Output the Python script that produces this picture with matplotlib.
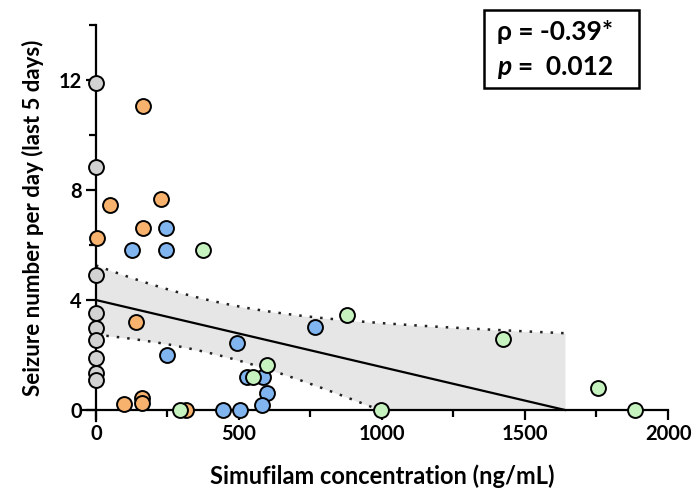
import numpy as np
import matplotlib
matplotlib.use("Agg")
import matplotlib.pyplot as plt
from matplotlib.patches import Rectangle
from matplotlib.ticker import MultipleLocator

plt.rcParams['font.family'] = ['Lato', 'DejaVu Sans']
plt.rcParams['font.weight'] = 'bold'

# concentracoes (ng/mL) e crises por dia, por grupo
cinza_x = [0, 0, 0, 0, 0, 0, 0, 0, 0]
cinza_y = [11.9, 8.84, 4.9, 3.53, 2.98, 2.55, 1.89, 1.35, 1.1]

laranja_x = [164, 49, 228, 165, 4, 140, 98, 161, 161, 315]
laranja_y = [11.05, 7.45, 7.67, 6.62, 6.25, 3.2, 0.22, 0.44, 0.25, 0.0]

azul_x = [244, 125, 244, 494, 248, 766, 528, 584, 598, 581, 445, 505]
azul_y = [6.62, 5.82, 5.82, 2.43, 2.0, 3.02, 1.2, 1.2, 0.62, 0.2, 0.0, 0.0]

verde_x = [374, 877, 598, 550, 295, 995, 1424, 1756, 1886]
verde_y = [5.82, 3.45, 1.64, 1.2, 0.0, 0.0, 2.6, 0.8, 0.0]

grupos = [
    (cinza_x, cinza_y, '#d2d2d2'),
    (laranja_x, laranja_y, '#f7b26e'),
    (azul_x, azul_y, '#80b5ef'),
    (verde_x, verde_y, '#c6f2c0'),
]

# reta de regressao
reta_intercepto = 4.0
reta_zero_x = 1640

rho_txt = '-0.39*'
p_txt = '0.012'

# banda de confianca 95% em torno da reta
x_all = np.array(cinza_x + laranja_x + azul_x + verde_x, dtype=float)
y_all = np.array(cinza_y + laranja_y + azul_y + verde_y, dtype=float)
n = len(x_all)
b0 = reta_intercepto
b1 = -reta_intercepto / reta_zero_x
resid = y_all - (b0 + b1 * x_all)
s = np.sqrt(np.sum(resid ** 2) / (n - 2))
sxx = np.sum((x_all - x_all.mean()) ** 2)
t_crit = 2.023

xs = np.linspace(0, reta_zero_x, 300)
yhat = b0 + b1 * xs
h = t_crit * s * np.sqrt(1 / n + (xs - x_all.mean()) ** 2 / sxx)
sup = yhat + h
inf = yhat - h

fig = plt.figure(figsize=(6.92, 4.9), dpi=100)
ax = fig.add_axes([83 / 692, 1 - 421 / 490, 585 / 692, 396 / 490])

ax.fill_between(xs, np.maximum(inf, 0), sup, color='#e6e6e6', lw=0, zorder=1)
ax.plot(xs, yhat, color='black', lw=1.6, zorder=2)
ax.plot(xs, sup, color='#222222', lw=1.8, linestyle=(0, (1, 3.2)), zorder=2)
m = inf >= 0
ax.plot(xs[m], inf[m], color='#222222', lw=1.8, linestyle=(0, (1, 3.2)), zorder=2)

for gx, gy, cor in grupos:
    ax.scatter(gx, gy, s=115, facecolor=cor, edgecolor='black', linewidth=1.4,
               zorder=4, clip_on=False)

ax.set_xlim(-45, 2000)
ax.set_ylim(-0.4, 14)
ax.spines['left'].set_position(('data', 0))
ax.spines['bottom'].set_position(('data', 0))
ax.spines['top'].set_visible(False)
ax.spines['right'].set_visible(False)
for sp in ['left', 'bottom']:
    ax.spines[sp].set_linewidth(1.6)
    ax.spines[sp].set_zorder(3)

ax.xaxis.set_major_locator(MultipleLocator(500))
ax.xaxis.set_minor_locator(MultipleLocator(250))
ax.yaxis.set_major_locator(MultipleLocator(4))
ax.yaxis.set_minor_locator(MultipleLocator(2))
ax.tick_params(which='major', length=7, width=1.6, labelsize=14.5, pad=3)
ax.tick_params(which='minor', length=5, width=1.6)
for lab in ax.get_xticklabels() + ax.get_yticklabels():
    lab.set_fontweight('bold')

fig.text(382 / 692, 1 - 476 / 490, 'Simufilam concentration (ng/mL)', ha='center', va='center',
         fontsize=17, fontweight='bold')
fig.text(33 / 692, 1 - 218 / 490, 'Seizure number per day (last 5 days)', ha='center', va='center',
         rotation=90, fontsize=16, fontweight='bold')

fig.patches.append(Rectangle((484 / 692, 1 - 88 / 490), 155 / 692, 78 / 490,
                             transform=fig.transFigure, fill=False, lw=1.8, edgecolor='black'))
fig.text(497 / 692, 1 - 32 / 490, 'ρ = ' + rho_txt, ha='left', va='center',
         fontsize=19, fontweight='bold')
fig.text(497 / 692, 1 - 67 / 490, 'p', ha='left', va='center', fontsize=19,
         fontweight='bold', fontstyle='italic')
fig.text(518 / 692, 1 - 67 / 490, '=  ' + p_txt, ha='left', va='center', fontsize=19,
         fontweight='bold')

fig.savefig('out.png', dpi=100)
